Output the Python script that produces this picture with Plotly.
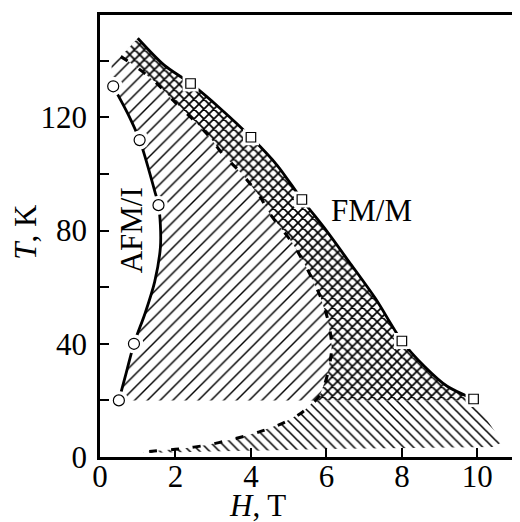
import numpy as np
import plotly.graph_objects as go

# ---- data ----
# AFM/I boundary (solid curve through open circles), H in T, T in K
afm_H = [0.35, 0.75, 1.05, 1.15, 1.45, 1.55, 1.6, 1.6, 1.45, 1.2, 0.9, 0.7, 0.5]
afm_T = [131, 121, 112, 108, 94, 89, 82, 74, 62, 51, 40, 30, 20]
circ_H = [0.35, 1.05, 1.55, 0.9, 0.5]
circ_T = [131, 112, 89, 40, 20]

# FM/M boundary (solid curve through open squares)
fm_H = [1.0, 1.7, 2.4, 3.2, 4.0, 4.7, 5.35, 6.0, 6.6, 7.3, 8.0, 8.6, 9.2, 9.9]
fm_T = [148, 138.5, 132, 123, 113, 103, 91, 80, 69, 56, 41, 32, 25, 20.5]
sq_H = [2.4, 4.0, 5.35, 8.0, 9.9]
sq_T = [132, 113, 91, 41, 20.5]

# dashed boundary
d_H = [0.55, 0.84, 1.46, 1.94, 2.43, 2.86, 3.27, 3.75, 4.24, 4.5, 5.1, 5.47, 5.83,
       6.04, 6.14, 6.04, 5.83, 5.38, 4.85, 4.2, 3.44, 2.83, 2.2, 1.15]
d_T = [141.5, 139, 132.6, 126, 119.7, 113.8, 106.7, 100.2, 92, 86, 75.6, 67, 57,
       48.4, 39, 29.7, 21.9, 16, 12, 8.8, 6, 4.2, 3, 1.8]

# edges of the hatched areas
cut_T = 20                       # lower horizontal edge of the upper hatching
topleft_H = [0.3, 0.55, 1.0]     # upper-left edge of the hatching
topleft_T = [139, 141.5, 148]
low_H = [1.15, 6.0, 10.4, 10.66]  # lower edge of the "\" hatching
low_T = [1.4, 2.8, 3.5, 5.2]

x_ticks = [0, 2, 4, 6, 8, 10]
y_ticks = [0, 20, 40, 60, 80, 100, 120, 140]
y_tick_text = ["0", "", "40", "", "80", "", "120", ""]

# ---- build regions from the arrays ----
dH = np.array(d_H); dT = np.array(d_T)
i = int(np.where(dT < cut_T)[0][0])
cross_H = float(dH[i - 1] + (cut_T - dT[i - 1]) * (dH[i] - dH[i - 1]) / (dT[i] - dT[i - 1]))
upper_H = list(dH[:i]); upper_T = list(dT[:i])
lower_H = list(dH[i:]); lower_T = list(dT[i:])

A_H = afm_H + [cross_H] + upper_H[::-1] + [topleft_H[0], afm_H[0]]
A_T = afm_T + [cut_T] + upper_T[::-1] + [topleft_T[0], afm_T[0]]
X_H = upper_H + [cross_H, fm_H[-1]] + fm_H[::-1] + [upper_H[0]]
X_T = upper_T + [cut_T, cut_T] + fm_T[::-1] + [upper_T[0]]
L_H = [cross_H] + lower_H + low_H + [fm_H[-1], cross_H]
L_T = [cut_T] + lower_T + low_T + [cut_T, cut_T]

serif = "Liberation Serif"
fig = go.Figure()

def hatch(xs, ys, shape, size, solidity):
    fig.add_trace(go.Scatter(
        x=xs, y=ys, mode="none", fill="toself",
        fillcolor="rgba(0,0,0,0)",
        fillpattern=dict(shape=shape, size=size, solidity=solidity,
                         fgcolor="black", bgcolor="rgba(0,0,0,0)", fillmode="replace"),
        hoverinfo="skip", showlegend=False))

hatch(A_H, A_T, "/", 9, 0.16)
hatch(X_H, X_T, "x", 7, 0.42)
hatch(L_H, L_T, "\\", 7, 0.22)

fig.add_trace(go.Scatter(x=d_H, y=d_T, mode="lines",
                         line=dict(color="black", width=3, dash="8px,14px", shape="spline", smoothing=0.8),
                         showlegend=False))
fig.add_trace(go.Scatter(x=afm_H, y=afm_T, mode="lines",
                         line=dict(color="black", width=2.8, shape="spline", smoothing=0.8),
                         showlegend=False))
fig.add_trace(go.Scatter(x=fm_H, y=fm_T, mode="lines",
                         line=dict(color="black", width=2.8, shape="spline", smoothing=0.8),
                         showlegend=False))
fig.add_trace(go.Scatter(x=circ_H, y=circ_T, mode="markers",
                         marker=dict(symbol="circle", size=19, color="white", line=dict(width=0)),
                         showlegend=False))
fig.add_trace(go.Scatter(x=sq_H, y=sq_T, mode="markers",
                         marker=dict(symbol="square", size=16, color="white", line=dict(width=0)),
                         showlegend=False))
fig.add_trace(go.Scatter(x=circ_H, y=circ_T, mode="markers",
                         marker=dict(symbol="circle", size=11, color="white",
                                     line=dict(color="black", width=1.2)),
                         showlegend=False))
fig.add_trace(go.Scatter(x=sq_H, y=sq_T, mode="markers",
                         marker=dict(symbol="square", size=9.5, color="white",
                                     line=dict(color="black", width=1.2)),
                         showlegend=False))

fsize = 31
fig.add_annotation(x=0.84, y=80, text="AFM/I", textangle=-90, showarrow=False,
                   xanchor="center", yanchor="middle",
                   font=dict(family=serif, size=fsize, color="black"))
fig.add_annotation(x=7.2, y=87, text="FM/M", showarrow=False,
                   xanchor="center", yanchor="middle",
                   font=dict(family=serif, size=fsize, color="black"))
fig.add_annotation(xref="paper", yref="paper", x=-0.178, y=0.51, text="<i>T</i>, K",
                   textangle=-90, showarrow=False, xanchor="center", yanchor="middle",
                   font=dict(family=serif, size=fsize, color="black"))
fig.add_annotation(xref="paper", yref="paper", x=0.376, y=-0.11, text="<i>H</i>, T",
                   showarrow=False, xanchor="center", yanchor="middle",
                   font=dict(family=serif, size=fsize, color="black"))

# page body has an 8px default margin; figure sized so the plot area lands
# at x 100..520, y 15..457 in the 520x522 window
fig.update_layout(
    width=512, height=514,
    margin=dict(l=92, r=0, t=7, b=65),
    paper_bgcolor="white", plot_bgcolor="white",
    font=dict(family=serif, size=fsize, color="black"),
    showlegend=False,
)
fig.update_xaxes(range=[0, 11.13], tickvals=x_ticks, ticktext=[str(v) for v in x_ticks],
                 ticks="inside", ticklen=9, tickwidth=2, tickcolor="black",
                 showline=True, linewidth=2.5, linecolor="black", mirror=True,
                 showgrid=False, zeroline=False, ticklabelstandoff=-10)
fig.update_yaxes(range=[0, 156.2], tickvals=y_ticks, ticktext=y_tick_text,
                 ticks="inside", ticklen=9, tickwidth=2, tickcolor="black",
                 showline=True, linewidth=2.5, linecolor="black", mirror=False,
                 showgrid=False, zeroline=False, ticklabelstandoff=4)

fig.write_html("out.html")
